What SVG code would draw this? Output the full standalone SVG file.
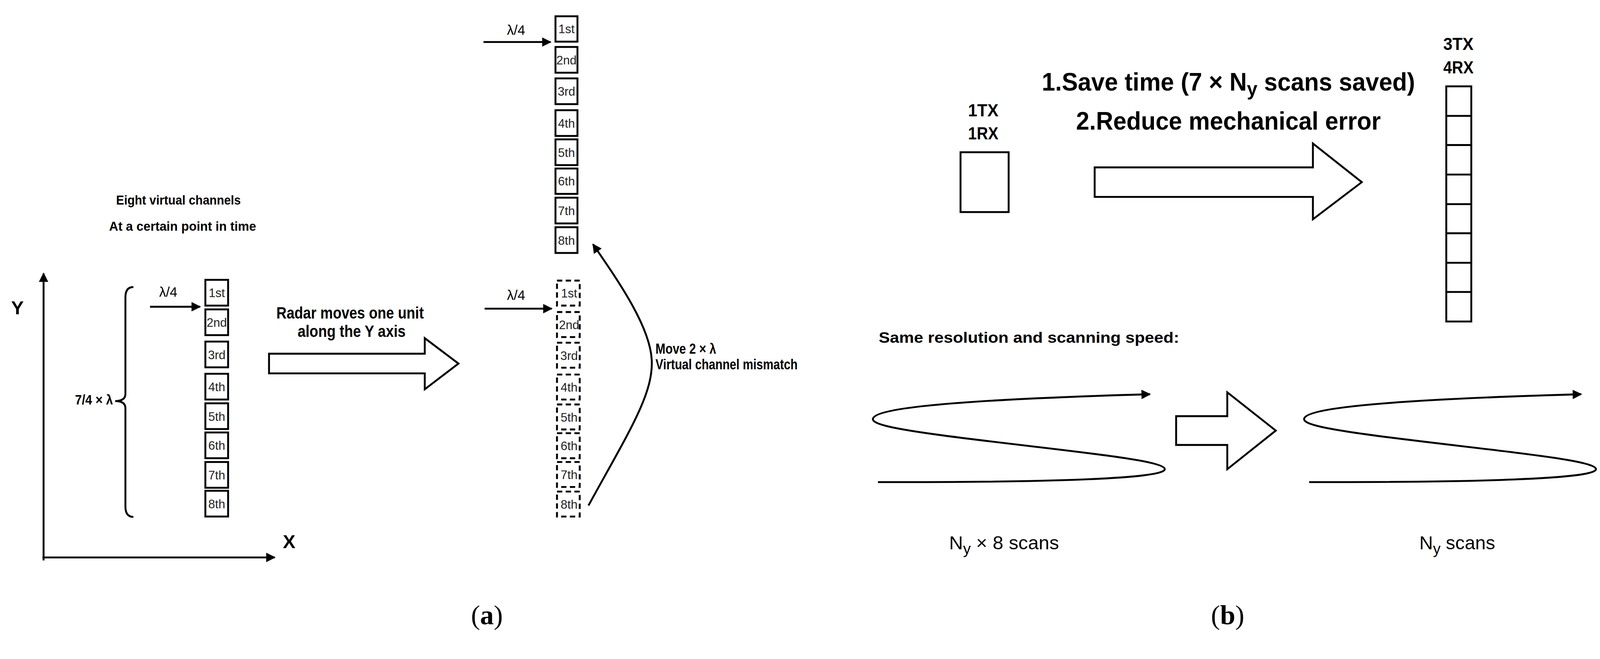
<svg xmlns="http://www.w3.org/2000/svg" width="4245" height="1688" viewBox="0 0 4245 1688">
<style>
text{font-family:"Liberation Sans",Arial,sans-serif;fill:#000}
.b{font-weight:bold}
.ch{font-size:32px;text-anchor:middle;fill:#222}
.box{fill:#fff;stroke:#000;stroke-width:5}
.dbox{fill:#fff;stroke:#000;stroke-width:5;stroke-dasharray:14 9}
.ln{fill:none;stroke:#000;stroke-width:5}
.hol{fill:#fff;stroke:#000;stroke-width:5;stroke-linejoin:miter}
.cap{font-family:"Liberation Serif","Times New Roman",serif;font-size:72px;text-anchor:middle}
</style>
<defs>
<marker id="ah" viewBox="0 0 10 10" refX="9" refY="5" markerWidth="5" markerHeight="5" orient="auto" markerUnits="strokeWidth">
<path d="M0,0 L10,5 L0,10 z" fill="#000"/>
</marker>
</defs>
<rect width="4245" height="1688" fill="#fff"/>
<g id="figure" transform="scale(0.97)">

<g id="axes">
<line class="ln" stroke-width="7" x1="115" y1="1480" x2="115" y2="722" marker-end="url(#ah)"/>
<line class="ln" stroke-width="7" x1="112" y1="1472" x2="725" y2="1472" marker-end="url(#ah)"/>
<text x="46" y="830" class="b" font-size="50" text-anchor="middle">Y</text>
<text x="763" y="1447" class="b" font-size="50" text-anchor="middle">X</text>
</g>

<g id="labels-left">
<text x="471" y="540" class="b" font-size="34" text-anchor="middle" textLength="329" lengthAdjust="spacingAndGlyphs">Eight virtual channels</text>
<text x="482" y="609" class="b" font-size="34" text-anchor="middle" textLength="388" lengthAdjust="spacingAndGlyphs">At a certain point in time</text>
<text x="298" y="1068" class="b" font-size="36" text-anchor="end" textLength="100" lengthAdjust="spacingAndGlyphs">7/4 × λ</text>
<path class="ln" stroke-width="4" d="M352,758 Q331,758 331,785 L331,1040 Q331,1059 304,1059 Q331,1059 331,1078 L331,1338 Q331,1365 352,1365"/>
</g>

<g id="lambda-left">
<text x="444" y="784" font-size="36" text-anchor="middle">λ/4</text>
<line class="ln" stroke-width="5" x1="396" y1="810" x2="528" y2="810" marker-end="url(#ah)"/>
</g>

<g id="column-left">
<rect class="box" x="542" y="739" width="60" height="68"/><text class="ch" x="572" y="785">1st</text>
<rect class="box" x="542" y="817" width="60" height="68"/><text class="ch" x="572" y="863">2nd</text>
<rect class="box" x="542" y="902" width="60" height="68"/><text class="ch" x="572" y="948">3rd</text>
<rect class="box" x="542" y="987" width="60" height="68"/><text class="ch" x="572" y="1033">4th</text>
<rect class="box" x="542" y="1065" width="60" height="68"/><text class="ch" x="572" y="1111">5th</text>
<rect class="box" x="542" y="1142" width="60" height="68"/><text class="ch" x="572" y="1188">6th</text>
<rect class="box" x="542" y="1220" width="60" height="68"/><text class="ch" x="572" y="1266">7th</text>
<rect class="box" x="542" y="1296" width="60" height="68"/><text class="ch" x="572" y="1342">8th</text>
</g>

<g id="move-arrow">
<path class="hol" d="M710,934 L1121,934 L1121,893 L1210,960 L1121,1028 L1121,986 L710,986 Z"/>
<text x="924" y="841" class="b" font-size="44" text-anchor="middle" textLength="389" lengthAdjust="spacingAndGlyphs">Radar moves one unit</text>
<text x="928" y="890" class="b" font-size="44" text-anchor="middle" textLength="285" lengthAdjust="spacingAndGlyphs">along the Y axis</text>
</g>

<g id="column-top">
<text x="1362" y="92" font-size="36" text-anchor="middle">λ/4</text>
<line class="ln" stroke-width="5" x1="1276" y1="111" x2="1453" y2="111" marker-end="url(#ah)"/>
<rect class="box" x="1466" y="43" width="58" height="67"/><text class="ch" x="1495" y="88">1st</text>
<rect class="box" x="1466" y="124" width="58" height="68"/><text class="ch" x="1495" y="170">2nd</text>
<rect class="box" x="1466" y="207" width="58" height="68"/><text class="ch" x="1495" y="253">3rd</text>
<rect class="box" x="1466" y="291" width="58" height="68"/><text class="ch" x="1495" y="337">4th</text>
<rect class="box" x="1466" y="368" width="58" height="68"/><text class="ch" x="1495" y="414">5th</text>
<rect class="box" x="1466" y="445" width="58" height="67"/><text class="ch" x="1495" y="490">6th</text>
<rect class="box" x="1466" y="522" width="58" height="68"/><text class="ch" x="1495" y="568">7th</text>
<rect class="box" x="1466" y="600" width="58" height="68"/><text class="ch" x="1495" y="646">8th</text>
</g>

<g id="column-dashed">
<text x="1362" y="792" font-size="36" text-anchor="middle">λ/4</text>
<line class="ln" stroke-width="5" x1="1279" y1="815" x2="1456" y2="815" marker-end="url(#ah)"/>
<rect class="dbox" x="1470" y="741" width="60" height="66"/><text class="ch" x="1502" y="786">1st</text>
<rect class="dbox" x="1470" y="824" width="60" height="66"/><text class="ch" x="1502" y="869">2nd</text>
<rect class="dbox" x="1470" y="905" width="60" height="66"/><text class="ch" x="1502" y="950">3rd</text>
<rect class="dbox" x="1470" y="989" width="60" height="66"/><text class="ch" x="1502" y="1034">4th</text>
<rect class="dbox" x="1470" y="1068" width="60" height="66"/><text class="ch" x="1502" y="1113">5th</text>
<rect class="dbox" x="1470" y="1144" width="60" height="66"/><text class="ch" x="1502" y="1189">6th</text>
<rect class="dbox" x="1470" y="1220" width="60" height="66"/><text class="ch" x="1502" y="1265">7th</text>
<rect class="dbox" x="1470" y="1298" width="60" height="66"/><text class="ch" x="1502" y="1343">8th</text>
</g>

<g id="connectors">
<path class="ln" stroke-width="7" d="M1553,1335 C1660,1140 1725,1040 1720,950 C1715,860 1630,740 1565,645" marker-end="url(#ah)"/>
</g>

<g id="mismatch-label">
<text x="1730" y="934" class="b" font-size="38" textLength="160" lengthAdjust="spacingAndGlyphs">Move 2 × λ</text>
<text x="1730" y="975" class="b" font-size="38" textLength="375" lengthAdjust="spacingAndGlyphs">Virtual channel mismatch</text>
</g>

<text class="cap" x="1285" y="1648">(<tspan font-weight="bold">a</tspan>)</text>

<g id="single">
<text x="2595" y="307" class="b" font-size="46" text-anchor="middle" textLength="80" lengthAdjust="spacingAndGlyphs">1TX</text>
<text x="2595" y="368" class="b" font-size="46" text-anchor="middle" textLength="80" lengthAdjust="spacingAndGlyphs">1RX</text>
<rect class="box" x="2535" y="402" width="127" height="158"/>
</g>

<g id="save-arrow">
<path class="hol" d="M2889,442 L3465,442 L3465,379 L3594,481 L3465,579 L3465,520 L2889,520 Z"/>
<text x="3242" y="239" class="b" font-size="66" text-anchor="middle" textLength="985" lengthAdjust="spacingAndGlyphs">1.Save time (7 × N<tspan font-size="52" dy="14">y</tspan><tspan dy="-14"> scans saved)</tspan></text>
<text x="3242" y="342" class="b" font-size="66" text-anchor="middle" textLength="804" lengthAdjust="spacingAndGlyphs">2.Reduce mechanical error</text>
</g>

<g id="array">
<text x="3849" y="132" class="b" font-size="46" text-anchor="middle" textLength="80" lengthAdjust="spacingAndGlyphs">3TX</text>
<text x="3849" y="194" class="b" font-size="46" text-anchor="middle" textLength="80" lengthAdjust="spacingAndGlyphs">4RX</text>
<rect class="box" x="3817" y="228" width="66" height="621"/>
<path class="ln" d="M3817,306 H3883 M3817,383 H3883 M3817,461 H3883 M3817,539 H3883 M3817,616 H3883 M3817,694 H3883 M3817,771 H3883"/>
</g>

<text x="2319" y="905" class="b" font-size="40" textLength="793" lengthAdjust="spacingAndGlyphs">Same resolution and scanning speed:</text>

<g id="scan1">
<path class="ln" stroke-width="7" d="M2317,1273 C2750,1274 3074,1265 3074,1239 C3074,1212 2760,1186 2490,1150 C2340,1130 2300,1118 2304,1105 C2315,1070 2650,1052 3035,1041" marker-end="url(#ah)"/>
<text x="2650" y="1451" font-size="50" text-anchor="middle" textLength="290" lengthAdjust="spacingAndGlyphs">N<tspan font-size="40" dy="12">y</tspan><tspan dy="-12"> × 8 scans</tspan></text>
</g>

<g id="mid-arrow">
<path class="hol" d="M3104,1099 L3239,1099 L3239,1036 L3367,1137 L3239,1239 L3239,1175 L3104,1175 Z"/>
</g>

<g id="scan2">
<path class="ln" stroke-width="7" transform="translate(1138,0)" d="M2317,1273 C2750,1274 3074,1265 3074,1239 C3074,1212 2760,1186 2490,1150 C2340,1130 2300,1118 2304,1105 C2315,1070 2650,1052 3035,1041" marker-end="url(#ah)"/>
<text x="3846" y="1451" font-size="50" text-anchor="middle" textLength="200" lengthAdjust="spacingAndGlyphs">N<tspan font-size="40" dy="12">y</tspan><tspan dy="-12"> scans</tspan></text>
</g>

<text class="cap" x="3240" y="1648">(<tspan font-weight="bold">b</tspan>)</text>
</g>
</svg>
